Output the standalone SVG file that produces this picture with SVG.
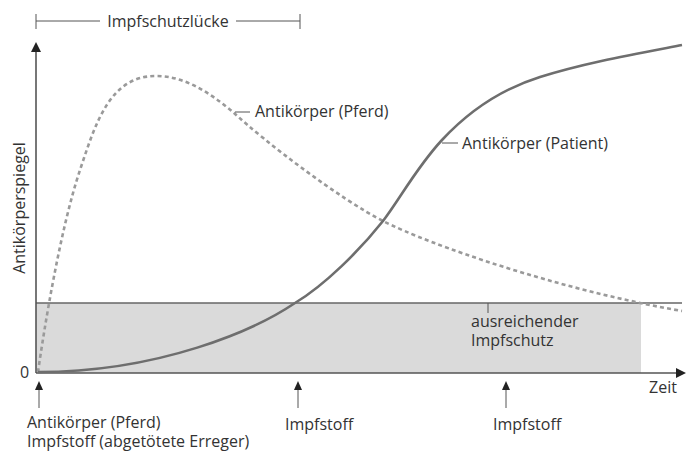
<svg xmlns="http://www.w3.org/2000/svg" width="686" height="453" viewBox="0 0 686 453">
<style>
text{font-family:"Open Sans","Noto Sans","Liberation Sans",sans-serif;font-size:16px;fill:#333}
.ax{stroke:#555;stroke-width:1.6;fill:none}
.thin{stroke:#555;stroke-width:1;fill:none}
.head{fill:#222}
.pferd{stroke:#9a9a9a;stroke-width:2.6;fill:none;stroke-dasharray:4 3.2}
.pat{stroke:#6e6e6e;stroke-width:2.6;fill:none}
</style>
<rect width="686" height="453" fill="#fff"/>
<g id="schutz">
<rect x="36" y="303" width="605" height="70" fill="#dadada"/>
<line x1="36" y1="303" x2="682" y2="303" stroke="#666" stroke-width="1.4"/>
<line class="thin" x1="488" y1="303" x2="488" y2="313"/>
<text x="471" y="327">ausreichender</text>
<text x="471" y="346">Impfschutz</text>
</g>
<g id="axes">
<line class="ax" x1="36" y1="373" x2="36" y2="50"/>
<polygon class="head" points="36,42 31,52 41,52"/>
<line class="ax" x1="36" y1="373" x2="677" y2="373" stroke-width="2"/>
<polygon class="head" points="686,373 676,368 676,378"/>
<text x="20" y="378">0</text>
<text x="649" y="393">Zeit</text>
<text transform="translate(25,208) rotate(-90)" text-anchor="middle">Antikörperspiegel</text>
</g>
<g id="luecke">
<line class="thin" x1="36" y1="21" x2="100" y2="21"/>
<line class="thin" x1="36" y1="14" x2="36" y2="29"/>
<line class="thin" x1="236" y1="21" x2="300" y2="21"/>
<line class="thin" x1="300" y1="14" x2="300" y2="29"/>
<text x="168" y="27" text-anchor="middle">Impfschutzlücke</text>
</g>
<g id="curves">
<path id="kurve-pferd" class="pferd" d="M38,372 C44,330 60,230 80,170 C96,122 110,76 156,76 C185,76 210,93 233,112 C265,142 340,199 383,221 C430,245 560,290 682,311"/>
<path id="kurve-patient" class="pat" d="M38,372 C160,372 255,330 295,303 C325,285 360,250 383,221 C400,199 416,168 442,140 C468,112 500,89.5 540,77 C585,63 630,55 682,45"/>
<line class="thin" x1="235" y1="112" x2="250" y2="112"/>
<text x="255" y="117">Antikörper (Pferd)</text>
<line class="thin" x1="442" y1="143" x2="458" y2="143"/>
<text x="462" y="149">Antikörper (Patient)</text>
</g>
<g id="gaben">
<g id="gabe1">
<line class="thin" x1="39" y1="388" x2="39" y2="408" stroke-width="1.4"/>
<polygon class="head" points="39,381 35,390 43,390"/>
<text x="27" y="428">Antikörper (Pferd)</text>
<text x="27" y="447">Impfstoff (abgetötete Erreger)</text>
</g>
<g id="gabe2">
<line class="thin" x1="298" y1="388" x2="298" y2="408" stroke-width="1.4"/>
<polygon class="head" points="298,381 294,390 302,390"/>
<text x="285" y="430">Impfstoff</text>
</g>
<g id="gabe3">
<line class="thin" x1="506" y1="388" x2="506" y2="408" stroke-width="1.4"/>
<polygon class="head" points="506,381 502,390 510,390"/>
<text x="493" y="430">Impfstoff</text>
</g>
</g>
</svg>
